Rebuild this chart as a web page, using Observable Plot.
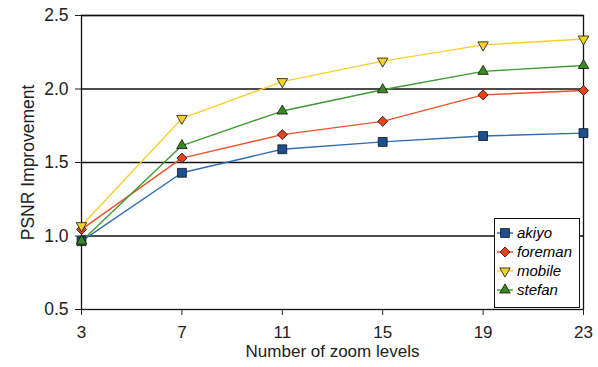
<!DOCTYPE html>
<html><head><meta charset="utf-8">
<script src="https://cdn.jsdelivr.net/npm/d3@7"></script>
<script src="https://cdn.jsdelivr.net/npm/@observablehq/plot@0.6"></script>
<style>
body{margin:0;background:#fff;font-family:"Liberation Sans",Arial,sans-serif;}
#wrap{position:relative;width:598px;height:367px;}
#legend{position:absolute;left:494px;top:218px;width:86px;height:90px;border:1.3px solid #111;background:#fff;box-sizing:border-box;font-style:italic;font-size:15px;padding-top:4px;}
#legend .row{display:flex;align-items:center;height:19px;}
#legend svg{margin-left:2px;margin-right:4px;}
</style>
</head><body>
<div id="wrap"><div id="chart"></div><div id="legend"></div></div>
<script>
const zoomLevels = [3, 7, 11, 15, 19, 23];
const akiyo   = [0.965, 1.43, 1.59, 1.64, 1.68, 1.70];
const foreman = [1.045, 1.53, 1.69, 1.78, 1.96, 1.99];
const mobile  = [1.07, 1.80, 2.05, 2.19, 2.30, 2.34];
const stefan  = [0.965, 1.615, 1.85, 1.995, 2.12, 2.16];
const seriesNames = ["akiyo", "foreman", "mobile", "stefan"];
const lineColors = ["#2f6cb3", "#f0512a", "#f6cf2e", "#3f9a35"];
const fillColors = ["#1c4f92", "#e6431c", "#f5d22b", "#3c8a1f"];
const yTicks = [0.5, 1.0, 1.5, 2.0, 2.5];

const triangleDown = {
  draw(ctx, size) {
    const s = Math.sqrt(size / (Math.sqrt(3) / 4));
    const h = s * Math.sqrt(3) / 2;
    ctx.moveTo(-s/2, -h/3);
    ctx.lineTo(s/2, -h/3);
    ctx.lineTo(0, 2*h/3);
    ctx.closePath();
  }
};
const triangleUp = {
  draw(ctx, size) {
    const s = Math.sqrt(size / (Math.sqrt(3) / 4));
    const h = s * Math.sqrt(3) / 2;
    ctx.moveTo(-s/2, h/3);
    ctx.lineTo(s/2, h/3);
    ctx.lineTo(0, -2*h/3);
    ctx.closePath();
  }
};
const diamond = {
  draw(ctx, size) {
    const r = Math.sqrt(size / 2);
    ctx.moveTo(0, -r); ctx.lineTo(r, 0); ctx.lineTo(0, r); ctx.lineTo(-r, 0); ctx.closePath();
  }
};
const symbols = [d3.symbolSquare, diamond, triangleDown, triangleUp];
const sizes = [5, 4, 3.9, 3.9];

const values = [akiyo, foreman, mobile, stefan];
const rows = [];
values.forEach((vals, i) => vals.forEach((v, j) => rows.push({series: seriesNames[i], idx: i, x: zoomLevels[j], y: v})));

const marks = [
  Plot.ruleY(yTicks.slice(1), {stroke: "#111", strokeWidth: 1.3}),
  Plot.frame({stroke: "#111", strokeWidth: 1.3}),
  Plot.axisX({ticks: zoomLevels, tickSize: 6, tickPadding: 10, fontSize: 17, label: "Number of zoom levels", labelAnchor: "center", labelArrow: "none", labelOffset: 47}),
  Plot.axisY({ticks: yTicks, tickSize: 6, tickPadding: 7, fontSize: 17.5, tickFormat: d3.format(".1f"), label: "PSNR Improvement", labelAnchor: "center", labelArrow: "none", labelOffset: 60})
];
seriesNames.forEach((name, i) => {
  const data = rows.filter(d => d.idx === i);
  marks.push(Plot.line(data, {x: "x", y: "y", stroke: lineColors[i], strokeWidth: 1.4}));
});
seriesNames.forEach((name, i) => {
  const data = rows.filter(d => d.idx === i);
  marks.push(Plot.dot(data, {x: "x", y: "y", symbol: () => symbols[i], r: sizes[i], fill: fillColors[i], stroke: "#111", strokeWidth: 0.8}));
});

const chart = Plot.plot({
  width: 598, height: 367,
  marginLeft: 81, marginRight: 15, marginTop: 15, marginBottom: 58,
  style: {fontFamily: "'Liberation Sans', Arial, sans-serif", fontSize: "17px", color: "#222", background: "#fff"},
  x: {domain: [3, 23]},
  y: {domain: [0.5, 2.5]},
  symbol: {type: "identity"},
  marks
});
document.getElementById("chart").appendChild(chart);

const legend = document.getElementById("legend");
seriesNames.forEach((name, i) => {
  const row = document.createElement("div");
  row.className = "row";
  const svg = d3.create("svg").attr("width", 16).attr("height", 14);
  svg.append("line").attr("x1", 0).attr("x2", 16).attr("y1", 7).attr("y2", 7).attr("stroke", lineColors[i]).attr("stroke-width", 1.4);
  svg.append("path").attr("transform", "translate(8,7)")
    .attr("d", d3.symbol(symbols[i], Math.PI * sizes[i] * sizes[i])())
    .attr("fill", fillColors[i]).attr("stroke", "#111").attr("stroke-width", 0.8);
  row.appendChild(svg.node());
  const span = document.createElement("span");
  span.textContent = name;
  row.appendChild(span);
  legend.appendChild(row);
});
</script>
</body></html>
